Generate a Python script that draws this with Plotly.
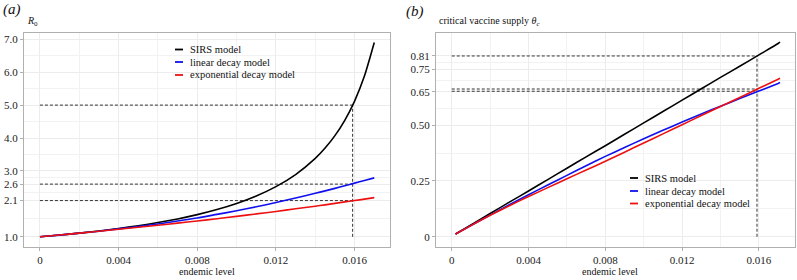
import plotly.graph_objects as go

# ---------------- data ----------------
# Panel (a): basic reproduction number R0 vs endemic level
a_x = [0, 0.001, 0.002, 0.003, 0.004, 0.005, 0.006, 0.007, 0.008, 0.009,
       0.010, 0.011, 0.012, 0.013, 0.014, 0.0145, 0.015, 0.0155, 0.016,
       0.0165, 0.017]
a_sirs = [1.00, 1.053, 1.112, 1.178, 1.252, 1.336, 1.432, 1.543, 1.673, 1.827,
          2.012, 2.239, 2.523, 2.889, 3.381, 3.695, 4.073, 4.538, 5.123,
          5.881, 6.90]
a_linear = [1.00, 1.05, 1.11, 1.17, 1.24, 1.31, 1.39, 1.48, 1.57, 1.68,
            1.79, 1.91, 2.04, 2.18, 2.32, 2.395, 2.47, 2.55, 2.63,
            2.71, 2.79]
a_expo = [1.00, 1.055, 1.11, 1.17, 1.23, 1.29, 1.35, 1.415, 1.48, 1.55,
          1.62, 1.695, 1.77, 1.85, 1.93, 1.97, 2.015, 2.06, 2.10,
          2.145, 2.19]

# Panel (b): critical vaccine supply theta_c vs endemic level
b_x = [0.0002, 0.001, 0.002, 0.003, 0.004, 0.005, 0.006, 0.007, 0.008,
       0.009, 0.010, 0.011, 0.012, 0.013, 0.014, 0.015, 0.016, 0.017, 0.0171]
b_sirs = [0.012, 0.053, 0.104, 0.155, 0.205, 0.256, 0.307, 0.358, 0.408,
          0.459, 0.510, 0.561, 0.612, 0.663, 0.714, 0.764, 0.815, 0.866, 0.872]
b_linear = [0.012, 0.050, 0.097, 0.143, 0.188, 0.232, 0.275, 0.318, 0.360,
            0.400, 0.439, 0.477, 0.514, 0.550, 0.585, 0.619, 0.653, 0.687, 0.691]
b_expo = [0.012, 0.050, 0.096, 0.139, 0.180, 0.220, 0.260, 0.299, 0.338,
          0.379, 0.420, 0.461, 0.502, 0.543, 0.584, 0.624, 0.665, 0.706, 0.710]

# reference (dashed) lines
ref_x = 0.0159
a_ref_levels = [5.0, 2.6, 2.1]
a_ref_floor = 1.0
b_ref_levels = [0.81, 0.662, 0.652]
b_ref_floor = 0.0

# axis ticks
x_ticks = [0, 0.004, 0.008, 0.012, 0.016]
x_tick_labels = ["0", "0.004", "0.008", "0.012", "0.016"]
x_minor = [0.002, 0.006, 0.010, 0.014]
a_y_ticks = [1.0, 2.1, 2.6, 3.0, 4.0, 5.0, 6.0, 7.0]
a_y_tick_labels = ["1.0", "2.1", "2.6", "3.0", "4.0", "5.0", "6.0", "7.0"]
a_y_minor = [1.55, 2.35, 2.8, 3.5, 4.5, 5.5, 6.5]
b_y_ticks = [0, 0.25, 0.50, 0.65, 0.75, 0.81]
b_y_tick_labels = ["0", "0.25", "0.50", "0.65", "0.75", "0.81"]
b_y_minor = [0.125, 0.375, 0.575, 0.70, 0.78]

series_names = ["SIRS model", "linear decay model", "exponential decay model"]
series_colors = ["#000000", "#1010ee", "#ee1010"]

# ---------------- figure ----------------
W, H = 797, 280
FONT = "Liberation Serif"
fig = go.Figure()

def px_x(p):
    return p / W

def px_y(p):
    return 1 - p / H

dash_style = dict(color="#333333", width=1, dash="3px,2px")

# dashed references panel a
for lvl in a_ref_levels:
    fig.add_trace(go.Scatter(x=[0, ref_x], y=[lvl, lvl], mode="lines",
                             line=dash_style, showlegend=False,
                             xaxis="x", yaxis="y", hoverinfo="skip"))
fig.add_trace(go.Scatter(x=[ref_x, ref_x], y=[a_ref_floor, max(a_ref_levels)],
                         mode="lines", line=dash_style, showlegend=False,
                         xaxis="x", yaxis="y", hoverinfo="skip"))
# dashed references panel b
for lvl in b_ref_levels:
    fig.add_trace(go.Scatter(x=[0, ref_x], y=[lvl, lvl], mode="lines",
                             line=dash_style, showlegend=False,
                             xaxis="x2", yaxis="y2", hoverinfo="skip"))
fig.add_trace(go.Scatter(x=[ref_x, ref_x], y=[b_ref_floor, max(b_ref_levels)],
                         mode="lines", line=dash_style, showlegend=False,
                         xaxis="x2", yaxis="y2", hoverinfo="skip"))

# curves
for name, ys, col in zip(series_names, [a_sirs, a_linear, a_expo], series_colors):
    fig.add_trace(go.Scatter(x=a_x, y=ys, mode="lines", name=name,
                             line=dict(color=col, width=1.6, shape="spline", smoothing=0.6),
                             showlegend=False, xaxis="x", yaxis="y"))
for name, ys, col in zip(series_names, [b_sirs, b_linear, b_expo], series_colors):
    fig.add_trace(go.Scatter(x=b_x, y=ys, mode="lines", name=name,
                             line=dict(color=col, width=1.6, shape="spline", smoothing=0.6),
                             showlegend=False, xaxis="x2", yaxis="y2"))

# plot area pixel boxes
a_left, a_right = 24, 390
b_left, b_right = 436, 795
top, bottom = 33, 247

axis_common = dict(
    showline=True, mirror=True, linecolor="#b0b0b0", linewidth=1,
    ticks="outside", ticklen=3, tickcolor="#b0b0b0", tickwidth=1,
    showgrid=True, gridcolor="#ececec", gridwidth=1, zeroline=False,
    tickfont=dict(family=FONT, size=11, color="#222222"),
)

def minor_cfg(vals):
    return dict(tickmode="array", tickvals=vals, showgrid=True,
                gridcolor="#f2f2f2", gridwidth=1, ticks="")

fig.update_layout(
    width=W, height=H,
    margin=dict(l=0, r=0, t=0, b=0),
    paper_bgcolor="white", plot_bgcolor="white",
    showlegend=False,
    font=dict(family=FONT, size=11, color="#111111"),
    xaxis=dict(domain=[px_x(a_left), px_x(a_right)], range=[-0.00081, 0.0178],
               tickmode="array", tickvals=x_ticks, ticktext=x_tick_labels,
               minor=minor_cfg(x_minor), anchor="y", **axis_common),
    yaxis=dict(domain=[px_y(bottom), px_y(top)], range=[0.69, 7.19],
               tickmode="array", tickvals=a_y_ticks, ticktext=a_y_tick_labels,
               minor=minor_cfg(a_y_minor), anchor="x", **axis_common),
    xaxis2=dict(domain=[px_x(b_left), px_x(b_right)], range=[-0.00082, 0.01788],
                tickmode="array", tickvals=x_ticks, ticktext=x_tick_labels,
                minor=minor_cfg(x_minor), anchor="y2", **axis_common),
    yaxis2=dict(domain=[px_y(bottom), px_y(top)], range=[-0.046, 0.913],
                tickmode="array", tickvals=b_y_ticks, ticktext=b_y_tick_labels,
                minor=minor_cfg(b_y_minor), anchor="x2", **axis_common),
)

annotations = []
def text(x, y, s, size, xanchor="left", yanchor="middle", color="#111111"):
    annotations.append(dict(x=px_x(x), y=px_y(y), xref="paper", yref="paper",
                            text=s, showarrow=False, xanchor=xanchor,
                            yanchor=yanchor,
                            font=dict(family=FONT, size=size, color=color)))

text(1, 10, "<i>(a)</i>", 15)
text(404, 12, "<i>(b)</i>", 15)
text(25, 22, "<i>R</i><sub>0</sub>", 10)
text(437, 22, "critical vaccine supply <i>θ</i><sub><i>c</i></sub>", 10)
text((a_left + a_right) / 2, 271, "endemic level", 10, xanchor="center")
text((b_left + b_right) / 2 - 6, 271, "endemic level", 10, xanchor="center")

# manual legends
shapes = []
def legend(x0, ys):
    for name, col, yy in zip(series_names, series_colors, ys):
        shapes.append(dict(type="line", xref="paper", yref="paper",
                           x0=px_x(x0), x1=px_x(x0 + 8), y0=px_y(yy), y1=px_y(yy),
                           line=dict(color=col, width=1.8)))
        text(x0 + 13, yy, name, 10.5)

legend(175, [49.5, 62, 75])
legend(630, [178, 191, 203.5])

fig.update_layout(annotations=annotations, shapes=shapes)

fig.write_html(
    "out.html",
    config={"displayModeBar": False},
    post_script="document.body.style.margin='0';document.body.style.padding='0';"
                "document.body.style.overflow='hidden';",
)
